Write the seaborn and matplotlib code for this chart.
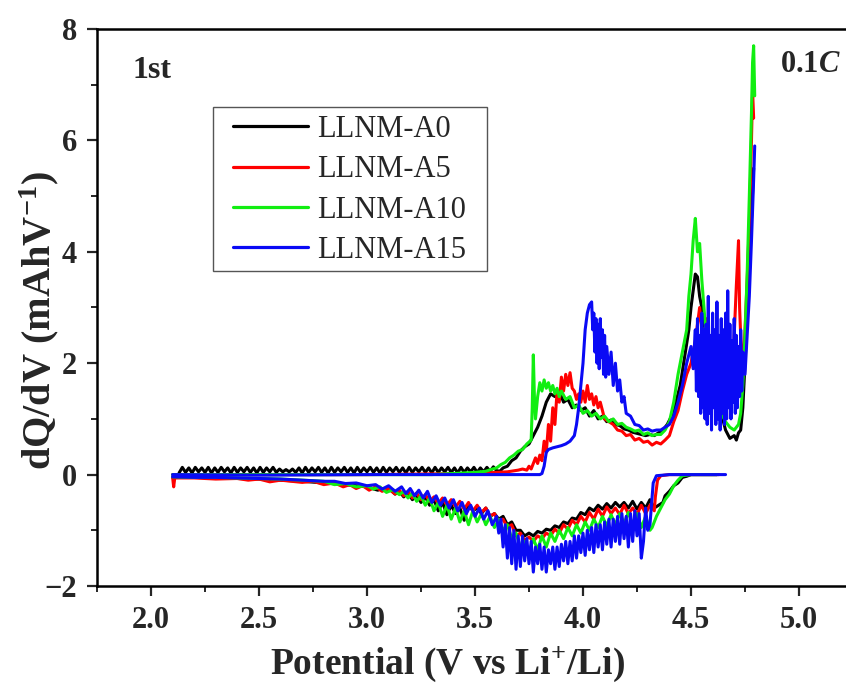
import pandas as pd
import matplotlib
matplotlib.use("Agg")
import matplotlib.pyplot as plt
from matplotlib.lines import Line2D
from matplotlib.patches import Rectangle
from matplotlib.ticker import MultipleLocator
import seaborn as sns

samples = ["LLNM-A0", "LLNM-A5", "LLNM-A10", "LLNM-A15"]
colors = ["#000000", "#FF0000", "#11EE11", "#0A0AF5"]

# LLNM-A0 charge: low-voltage ripple, then the main charge curve
a0_ripple_v = [2.130, 2.145, 2.160, 2.175, 2.190, 2.205, 2.220, 2.235, 2.250, 2.265,
               2.280, 2.295, 2.310, 2.325, 2.340, 2.355, 2.370, 2.385, 2.400, 2.415,
               2.430, 2.445, 2.460, 2.475, 2.490, 2.505, 2.520, 2.535, 2.550, 2.565,
               2.580, 2.595, 2.610, 2.625, 2.640, 2.655, 2.670, 2.685, 2.700, 2.715,
               2.730, 2.745, 2.760, 2.775, 2.790, 2.805, 2.820, 2.835, 2.850, 2.865,
               2.880, 2.895, 2.910, 2.925, 2.940, 2.955, 2.970, 2.985, 3.000, 3.015,
               3.030, 3.045, 3.060, 3.075, 3.090, 3.105, 3.120, 3.135, 3.150, 3.165,
               3.180, 3.195, 3.210, 3.225, 3.240, 3.255, 3.270, 3.285, 3.300, 3.315,
               3.330, 3.345, 3.360, 3.375, 3.390, 3.405, 3.420, 3.435, 3.450, 3.465,
               3.480, 3.495, 3.510, 3.525, 3.540, 3.555, 3.570, 3.585, 3.600]
a0_ripple_q = [0.03, 0.13, 0.04, 0.12, 0.03, 0.13, 0.05, 0.12, 0.04, 0.13,
               0.03, 0.12, 0.04, 0.13, 0.05, 0.12, 0.03, 0.13, 0.04, 0.12,
               0.05, 0.13, 0.04, 0.12, 0.03, 0.13, 0.04, 0.12, 0.05, 0.13,
               0.04, 0.10, 0.05, 0.09, 0.05, 0.10, 0.04, 0.12, 0.03, 0.13,
               0.04, 0.12, 0.05, 0.13, 0.04, 0.12, 0.03, 0.13, 0.04, 0.12,
               0.05, 0.13, 0.04, 0.12, 0.03, 0.13, 0.04, 0.12, 0.05, 0.13,
               0.04, 0.12, 0.03, 0.13, 0.04, 0.12, 0.05, 0.13, 0.04, 0.12,
               0.03, 0.13, 0.04, 0.12, 0.05, 0.13, 0.04, 0.12, 0.03, 0.13,
               0.04, 0.12, 0.05, 0.13, 0.04, 0.12, 0.03, 0.13, 0.04, 0.12,
               0.05, 0.13, 0.04, 0.12, 0.05, 0.13, 0.06, 0.14, 0.07]
a0_charge_v = [3.615, 3.63, 3.65, 3.67, 3.69, 3.71, 3.73, 3.75, 3.77, 3.79, 3.81, 3.83,
               3.85, 3.87, 3.89, 3.91, 3.93, 3.95, 3.97, 3.99, 4.01, 4.03, 4.05, 4.07,
               4.09, 4.11, 4.13, 4.15, 4.17, 4.19, 4.21, 4.23, 4.25, 4.27, 4.29, 4.31,
               4.33, 4.35, 4.37, 4.39, 4.41, 4.43, 4.45, 4.47, 4.49, 4.50, 4.51, 4.52,
               4.53, 4.54, 4.55, 4.56, 4.58, 4.60, 4.62, 4.64, 4.66, 4.68, 4.70, 4.71,
               4.72, 4.73, 4.74, 4.75, 4.76, 4.77, 4.78, 4.79]
a0_charge_q = [0.06, 0.12, 0.15, 0.25, 0.30, 0.42, 0.50, 0.55, 0.70, 0.85, 1.05, 1.30,
               1.45, 1.40, 1.50, 1.30, 1.35, 1.20, 1.25, 1.15, 1.20, 1.05, 1.15, 1.00,
               1.05, 0.95, 0.98, 0.90, 0.88, 0.82, 0.80, 0.76, 0.74, 0.72, 0.70, 0.72,
               0.70, 0.75, 0.80, 0.90, 1.05, 1.30, 1.60, 2.10, 2.60, 3.00, 3.30, 3.60,
               3.55, 3.20, 3.00, 2.70, 2.40, 2.10, 1.60, 1.10, 0.80, 0.65, 0.70, 0.62,
               0.75, 0.80, 1.20, 2.00, 2.80, 3.60, 4.60, 5.50]
a0_dis_v = [4.62, 4.55, 4.50, 4.48, 4.46, 4.44, 4.42, 4.40, 4.38, 4.37, 4.35, 4.33,
            4.31, 4.29, 4.27, 4.25, 4.23, 4.21, 4.19, 4.17, 4.15, 4.13, 4.11, 4.09,
            4.07, 4.05, 4.03, 4.01, 3.99, 3.97, 3.95, 3.93, 3.91, 3.89, 3.87, 3.85,
            3.83, 3.81, 3.79, 3.77, 3.75, 3.73, 3.71, 3.69, 3.67, 3.65, 3.63, 3.61,
            3.59, 3.57, 3.55, 3.53, 3.51, 3.49, 3.47, 3.45, 3.43, 3.41, 3.39, 3.37,
            3.35, 3.33, 3.31, 3.29, 3.27, 3.25, 3.23, 3.21, 3.19, 3.17, 3.15, 3.13,
            3.11, 3.09, 3.07, 3.05, 3.00, 2.95, 2.90, 2.80, 2.70, 2.60, 2.50, 2.40,
            2.30, 2.20, 2.10]
a0_dis_q = [0.0, 0.0, 0.0, -0.03, -0.05, -0.15, -0.20, -0.30, -0.38, -0.50, -0.55, -0.60,
            -0.45, -0.60, -0.50, -0.62, -0.48, -0.60, -0.50, -0.58, -0.50, -0.60, -0.52, -0.62,
            -0.55, -0.65, -0.60, -0.72, -0.68, -0.80, -0.78, -0.88, -0.85, -0.95, -0.92, -1.00,
            -0.98, -1.05, -1.02, -1.10, -1.05, -1.10, -1.00, -1.00, -0.85, -0.90, -0.75, -0.80,
            -0.70, -0.75, -0.60, -0.70, -0.60, -0.65, -0.55, -0.82, -0.60, -0.70, -0.55, -0.72,
            -0.50, -0.65, -0.45, -0.55, -0.40, -0.50, -0.38, -0.45, -0.33, -0.40, -0.30, -0.35,
            -0.28, -0.30, -0.25, -0.28, -0.22, -0.20, -0.18, -0.15, -0.12, -0.10, -0.08, -0.07,
            -0.06, -0.05, -0.05]

a5_charge_v = [2.10, 2.50, 3.00, 3.50, 3.60, 3.65, 3.70, 3.72, 3.74, 3.75, 3.76, 3.77,
               3.78, 3.79, 3.80, 3.81, 3.82, 3.83, 3.84, 3.85, 3.86, 3.87, 3.88, 3.89,
               3.90, 3.91, 3.92, 3.93, 3.94, 3.95, 3.96, 3.97, 3.98, 3.99, 4.00, 4.01,
               4.02, 4.03, 4.04, 4.05, 4.06, 4.07, 4.08, 4.10, 4.12, 4.14, 4.16, 4.18,
               4.20, 4.22, 4.24, 4.26, 4.28, 4.30, 4.32, 4.34, 4.36, 4.38, 4.40, 4.42,
               4.44, 4.46, 4.48, 4.50, 4.52, 4.54, 4.55, 4.56, 4.57, 4.58, 4.60, 4.61,
               4.62, 4.63, 4.64, 4.65, 4.66, 4.67, 4.68, 4.69, 4.70, 4.71, 4.72, 4.725,
               4.73, 4.74, 4.75, 4.76, 4.77, 4.78, 4.785, 4.79]
a5_charge_q = [0.0, 0.0, 0.0, 0.02, 0.04, 0.05, 0.08, 0.10, 0.08, 0.15, 0.10, 0.20,
               0.30, 0.20, 0.35, 0.25, 0.60, 0.40, 0.90, 0.60, 1.20, 0.90, 1.50, 1.30,
               1.75, 1.50, 1.80, 1.60, 1.83, 1.55, 1.50, 1.35, 1.45, 1.30, 1.50, 1.30,
               1.60, 1.35, 1.45, 1.25, 1.40, 1.20, 1.30, 1.00, 0.95, 0.90, 0.80, 0.78,
               0.70, 0.72, 0.62, 0.65, 0.58, 0.60, 0.53, 0.58, 0.55, 0.62, 0.70, 0.95,
               1.15, 1.50, 1.80, 2.00, 2.40, 3.00, 2.60, 2.20, 2.80, 1.90, 2.00, 1.60,
               2.20, 1.50, 1.90, 1.40, 1.80, 1.30, 2.20, 1.60, 2.50, 3.40, 4.20, 3.00,
               2.50, 1.80, 2.60, 3.50, 4.50, 6.00, 6.90, 6.40]
a5_dis_v = [4.63, 4.50, 4.40, 4.36, 4.345, 4.335, 4.33, 4.31, 4.29, 4.27, 4.25, 4.23,
            4.21, 4.19, 4.17, 4.15, 4.13, 4.11, 4.09, 4.07, 4.05, 4.03, 4.01, 3.99,
            3.97, 3.95, 3.93, 3.91, 3.89, 3.87, 3.85, 3.83, 3.81, 3.79, 3.77, 3.75,
            3.73, 3.71, 3.69, 3.67, 3.65, 3.63, 3.61, 3.59, 3.57, 3.55, 3.53, 3.51,
            3.49, 3.47, 3.45, 3.43, 3.41, 3.39, 3.37, 3.35, 3.33, 3.31, 3.29, 3.27,
            3.25, 3.23, 3.21, 3.19, 3.17, 3.15, 3.13, 3.10, 3.07, 3.04, 3.01, 2.98,
            2.95, 2.92, 2.89, 2.85, 2.80, 2.75, 2.70, 2.60, 2.55, 2.50, 2.45, 2.40,
            2.30, 2.20, 2.15, 2.11, 2.105, 2.10]
a5_dis_q = [0.0, 0.0, 0.0, -0.02, -0.10, -0.40, -0.65, -0.55, -0.70, -0.55, -0.72, -0.60,
            -0.70, -0.55, -0.72, -0.60, -0.70, -0.58, -0.75, -0.62, -0.80, -0.68, -0.85, -0.75,
            -0.90, -0.82, -0.98, -0.90, -1.05, -0.98, -1.10, -1.05, -1.15, -1.10, -1.20, -1.12,
            -1.18, -1.05, -1.10, -0.90, -0.95, -0.80, -0.85, -0.70, -0.75, -0.60, -0.68, -0.55,
            -0.65, -0.50, -0.62, -0.48, -0.58, -0.45, -0.55, -0.42, -0.52, -0.40, -0.48, -0.36,
            -0.45, -0.33, -0.42, -0.30, -0.38, -0.28, -0.35, -0.25, -0.30, -0.22, -0.28, -0.20,
            -0.25, -0.18, -0.22, -0.15, -0.18, -0.12, -0.14, -0.10, -0.13, -0.08, -0.10, -0.07,
            -0.08, -0.06, -0.06, -0.06, -0.22, -0.05]

a10_charge_v = [2.10, 2.50, 3.00, 3.30, 3.40, 3.50, 3.55, 3.58, 3.60, 3.62, 3.64, 3.66,
                3.68, 3.70, 3.72, 3.74, 3.76, 3.765, 3.77, 3.775, 3.78, 3.79, 3.80, 3.81,
                3.82, 3.83, 3.84, 3.85, 3.86, 3.87, 3.88, 3.89, 3.90, 3.92, 3.94, 3.96,
                3.98, 4.00, 4.02, 4.04, 4.06, 4.08, 4.10, 4.12, 4.14, 4.16, 4.18, 4.20,
                4.22, 4.24, 4.26, 4.28, 4.30, 4.32, 4.34, 4.36, 4.38, 4.40, 4.42, 4.44,
                4.46, 4.48, 4.49, 4.50, 4.51, 4.52, 4.525, 4.53, 4.54, 4.55, 4.56, 4.57,
                4.58, 4.59, 4.60, 4.62, 4.64, 4.66, 4.68, 4.70, 4.72, 4.73, 4.74, 4.75,
                4.76, 4.77, 4.78, 4.785, 4.79, 4.795]
a10_charge_q = [0.0, 0.0, 0.0, 0.0, 0.02, 0.04, 0.06, 0.10, 0.12, 0.18, 0.22, 0.30,
                0.35, 0.42, 0.45, 0.55, 0.62, 1.20, 2.15, 1.40, 1.00, 1.40, 1.65, 1.50,
                1.70, 1.55, 1.65, 1.50, 1.60, 1.45, 1.55, 1.40, 1.50, 1.35, 1.40, 1.20,
                1.25, 1.10, 1.15, 1.05, 1.10, 1.00, 1.05, 0.95, 1.00, 0.90, 0.92, 0.85,
                0.82, 0.78, 0.80, 0.72, 0.75, 0.70, 0.72, 0.72, 0.80, 0.95, 1.30, 1.80,
                2.20, 2.60, 3.20, 3.60, 4.20, 4.60, 4.30, 4.00, 4.15, 3.50, 3.00, 2.50,
                2.00, 1.70, 1.50, 1.30, 1.10, 0.95, 0.85, 0.80, 0.90, 1.10, 1.60, 2.50,
                3.60, 5.00, 6.50, 7.40, 7.70, 6.80]
a10_dis_v = [4.62, 4.50, 4.46, 4.44, 4.42, 4.40, 4.38, 4.36, 4.34, 4.32, 4.31, 4.29,
             4.27, 4.25, 4.23, 4.21, 4.19, 4.17, 4.15, 4.13, 4.11, 4.09, 4.07, 4.05,
             4.03, 4.01, 3.99, 3.97, 3.95, 3.93, 3.91, 3.89, 3.87, 3.85, 3.83, 3.81,
             3.79, 3.77, 3.75, 3.73, 3.71, 3.69, 3.67, 3.65, 3.63, 3.61, 3.59, 3.57,
             3.55, 3.53, 3.51, 3.49, 3.47, 3.45, 3.43, 3.41, 3.39, 3.37, 3.35, 3.33,
             3.31, 3.29, 3.27, 3.25, 3.23, 3.21, 3.19, 3.17, 3.15, 3.12, 3.09, 3.06,
             3.03, 3.00, 2.95, 2.90, 2.85, 2.80, 2.70, 2.60, 2.50, 2.40, 2.30, 2.20,
             2.10]
a10_dis_q = [0.0, 0.0, -0.02, -0.10, -0.20, -0.35, -0.45, -0.60, -0.75, -0.95, -1.00, -0.75,
             -0.95, -0.70, -0.90, -0.68, -0.88, -0.70, -0.90, -0.72, -0.92, -0.75, -0.95, -0.80,
             -1.00, -0.85, -1.05, -0.90, -1.10, -0.95, -1.15, -1.00, -1.20, -1.05, -1.30, -1.10,
             -1.35, -1.15, -1.40, -1.20, -1.30, -1.05, -1.15, -0.90, -1.00, -0.80, -0.95, -0.75,
             -0.90, -0.70, -0.85, -0.65, -0.90, -0.65, -0.85, -0.60, -0.80, -0.55, -0.75, -0.50,
             -0.65, -0.42, -0.55, -0.38, -0.48, -0.33, -0.42, -0.30, -0.36, -0.27, -0.32, -0.22,
             -0.26, -0.20, -0.22, -0.16, -0.18, -0.12, -0.10, -0.08, -0.07, -0.06, -0.05, -0.05,
             -0.04]

a15_charge_v = [2.10, 2.50, 3.00, 3.50, 3.80, 3.81, 3.82, 3.83, 3.84, 3.86, 3.88, 3.90,
                3.92, 3.94, 3.96, 3.97, 3.98, 3.99, 4.00, 4.01, 4.02, 4.03, 4.04, 4.045,
                4.05, 4.055, 4.06, 4.065, 4.07, 4.075, 4.08, 4.085, 4.09, 4.095, 4.10, 4.105,
                4.11, 4.12, 4.13, 4.14, 4.15, 4.16, 4.17, 4.18, 4.19, 4.20, 4.22, 4.24,
                4.26, 4.28, 4.30, 4.32, 4.34, 4.36, 4.38, 4.40, 4.42, 4.44, 4.46, 4.48,
                4.50, 4.51, 4.52, 4.525, 4.53, 4.535, 4.54, 4.545, 4.55, 4.555, 4.56, 4.565,
                4.57, 4.575, 4.58, 4.585, 4.59, 4.595, 4.60, 4.605, 4.61, 4.615, 4.62, 4.625,
                4.63, 4.635, 4.64, 4.645, 4.65, 4.655, 4.66, 4.665, 4.67, 4.675, 4.68, 4.685,
                4.69, 4.695, 4.70, 4.705, 4.71, 4.715, 4.72, 4.725, 4.73, 4.735, 4.74, 4.75,
                4.76, 4.77, 4.78, 4.79, 4.795]
a15_charge_q = [0.0, -0.01, 0.0, 0.0, 0.0, 0.02, 0.15, 0.40, 0.45, 0.48, 0.50, 0.52,
                0.55, 0.60, 0.70, 0.90, 1.20, 1.60, 2.00, 2.60, 2.90, 3.05, 3.10, 2.60,
                2.90, 2.20, 2.80, 2.00, 2.70, 1.90, 2.80, 2.10, 2.60, 1.80, 2.50, 1.75,
                2.30, 1.80, 2.20, 1.60, 2.00, 1.50, 1.70, 1.30, 1.40, 1.10, 1.05, 0.90,
                0.88, 0.80, 0.82, 0.78, 0.80, 0.80, 0.85, 0.90, 1.05, 1.30, 1.60, 2.00,
                2.30, 1.90, 2.60, 1.50, 2.80, 1.40, 2.50, 1.10, 2.90, 1.20, 2.60, 1.00,
                2.70, 0.90, 3.20, 1.10, 2.50, 0.80, 2.90, 1.20, 2.60, 0.90, 3.10, 1.00,
                2.50, 0.80, 2.80, 1.10, 2.60, 0.90, 2.90, 1.00, 3.30, 1.20, 2.70, 1.00,
                2.40, 1.30, 2.80, 1.10, 2.50, 1.20, 2.30, 1.40, 2.60, 1.50, 2.20, 1.80,
                2.50, 3.20, 4.20, 5.30, 5.90]
a15_dis_v = [4.66, 4.50, 4.40, 4.34, 4.325, 4.31, 4.30, 4.29, 4.28, 4.27, 4.26, 4.25,
             4.24, 4.23, 4.22, 4.21, 4.20, 4.19, 4.18, 4.17, 4.16, 4.15, 4.14, 4.13,
             4.12, 4.11, 4.10, 4.09, 4.08, 4.07, 4.06, 4.05, 4.04, 4.03, 4.02, 4.01,
             4.00, 3.99, 3.98, 3.97, 3.96, 3.95, 3.94, 3.93, 3.92, 3.91, 3.90, 3.89,
             3.88, 3.87, 3.86, 3.85, 3.84, 3.83, 3.82, 3.81, 3.80, 3.79, 3.78, 3.77,
             3.76, 3.75, 3.74, 3.73, 3.72, 3.71, 3.70, 3.69, 3.68, 3.67, 3.66, 3.65,
             3.64, 3.63, 3.62, 3.61, 3.60, 3.58, 3.56, 3.54, 3.52, 3.50, 3.48, 3.46,
             3.44, 3.42, 3.40, 3.38, 3.36, 3.34, 3.32, 3.30, 3.28, 3.26, 3.24, 3.22,
             3.20, 3.18, 3.16, 3.13, 3.10, 3.07, 3.04, 3.00, 2.95, 2.90, 2.85, 2.80,
             2.70, 2.60, 2.50, 2.40, 2.30, 2.20, 2.10]
a15_dis_q = [0.0, 0.0, 0.0, -0.02, -0.15, -0.90, -1.00, -0.60, -1.20, -1.50, -0.70, -1.10,
             -0.65, -1.20, -0.70, -1.30, -0.75, -1.15, -0.70, -1.25, -0.75, -1.20, -0.80, -1.30,
             -0.80, -1.25, -0.85, -1.35, -0.90, -1.30, -0.90, -1.40, -0.95, -1.35, -1.00, -1.45,
             -1.05, -1.40, -1.10, -1.50, -1.10, -1.55, -1.20, -1.60, -1.20, -1.55, -1.25, -1.65,
             -1.30, -1.70, -1.30, -1.60, -1.35, -1.75, -1.30, -1.70, -1.25, -1.60, -1.30, -1.75,
             -1.20, -1.60, -1.15, -1.55, -1.10, -1.65, -1.10, -1.70, -1.00, -1.60, -0.95, -1.50,
             -0.90, -1.30, -0.80, -1.05, -0.75, -0.90, -0.65, -0.80, -0.60, -0.75, -0.55, -0.70,
             -0.50, -0.65, -0.45, -0.60, -0.42, -0.55, -0.38, -0.50, -0.30, -0.42, -0.28, -0.38,
             -0.25, -0.34, -0.22, -0.30, -0.20, -0.26, -0.18, -0.20, -0.15, -0.16, -0.12, -0.12,
             -0.10, -0.08, -0.07, -0.06, -0.05, -0.05, -0.04]

branches = [
    ("LLNM-A0", "charge", a0_ripple_v + a0_charge_v, a0_ripple_q + a0_charge_q),
    ("LLNM-A0", "discharge", a0_dis_v, a0_dis_q),
    ("LLNM-A5", "charge", a5_charge_v, a5_charge_q),
    ("LLNM-A5", "discharge", a5_dis_v, a5_dis_q),
    ("LLNM-A10", "charge", a10_charge_v, a10_charge_q),
    ("LLNM-A10", "discharge", a10_dis_v, a10_dis_q),
    ("LLNM-A15", "charge", a15_charge_v, a15_charge_q),
    ("LLNM-A15", "discharge", a15_dis_v, a15_dis_q),
]
frames = []
for name, step, v, q in branches:
    frames.append(pd.DataFrame({"V": v, "dQdV": q, "sample": name, "branch": step}))
df = pd.concat(frames, ignore_index=True)

sns.set_style("ticks")
plt.rcParams["font.family"] = ["Liberation Serif", "DejaVu Serif"]
plt.rcParams["font.weight"] = "bold"
plt.rcParams["mathtext.fontset"] = "custom"
plt.rcParams["mathtext.rm"] = "Liberation Serif:bold"
plt.rcParams["mathtext.bf"] = "Liberation Serif:bold"
plt.rcParams["mathtext.it"] = "Liberation Serif:bold:italic"

fig = plt.figure(figsize=(8.46, 6.88), dpi=100)
ax = fig.add_axes([97 / 846, 1 - 586 / 688, 756 / 846, 557 / 688])

sns.lineplot(data=df, x="V", y="dQdV", hue="sample", hue_order=samples,
             palette=colors, units="branch", estimator=None, sort=False,
             linewidth=2.2, legend=False, ax=ax)

ax.set_xlim(1.75, 5.25)
ax.set_ylim(-2, 8)
ax.xaxis.set_minor_locator(MultipleLocator(0.25))
ax.yaxis.set_major_locator(MultipleLocator(2))
ax.yaxis.set_minor_locator(MultipleLocator(1))
ax.set_xticks([2.0, 2.5, 3.0, 3.5, 4.0, 4.5, 5.0])
ax.set_xticklabels(["2.0", "2.5", "3.0", "3.5", "4.0", "4.5", "5.0"])
ax.tick_params(which="major", direction="out", length=7, width=1.6, labelsize=22, pad=7.5)
ax.tick_params(which="minor", direction="out", length=4, width=1.4)
for lab in ax.get_xticklabels() + ax.get_yticklabels():
    lab.set_fontweight("bold")
for side in ["left", "bottom", "top", "right"]:
    ax.spines[side].set_linewidth(1.8)
    ax.spines[side].set_color("black")

ax.set_xlabel(r"Potential (V vs Li$^{+}$/Li)", fontsize=27, fontweight="bold")
ax.set_ylabel(r"dQ/dV (mAhV$^{-1}$)", fontsize=29, fontweight="bold")
ax.xaxis.set_label_coords(0.464, -0.106)
ax.yaxis.set_label_coords(-0.047, 0.476)

fig.text(132 / 846, 1 - 78 / 688, "1st", fontsize=23, fontweight="bold", va="baseline")
fig.text(780 / 846, 1 - 72 / 688, r"0.1$\mathit{C}$", fontsize=22, fontweight="bold", va="baseline")

handles = [Line2D([0], [0], color=c, lw=2.3) for c in colors]
leg = fig.legend(handles, samples, loc="upper left",
                 bbox_to_anchor=(233 / 846, 1 - 115 / 688),
                 prop={"family": "Liberation Serif", "weight": "normal", "size": 22},
                 frameon=False, handlelength=2.45, handletextpad=0.3,
                 labelspacing=0.37, borderpad=0, borderaxespad=0)
fig.patches.append(Rectangle((213 / 846, 1 - 271 / 688), 274 / 846, 164 / 688,
                             transform=fig.transFigure, fill=False,
                             edgecolor="#555555", linewidth=1.0))

fig.savefig("out.png", dpi=100)
